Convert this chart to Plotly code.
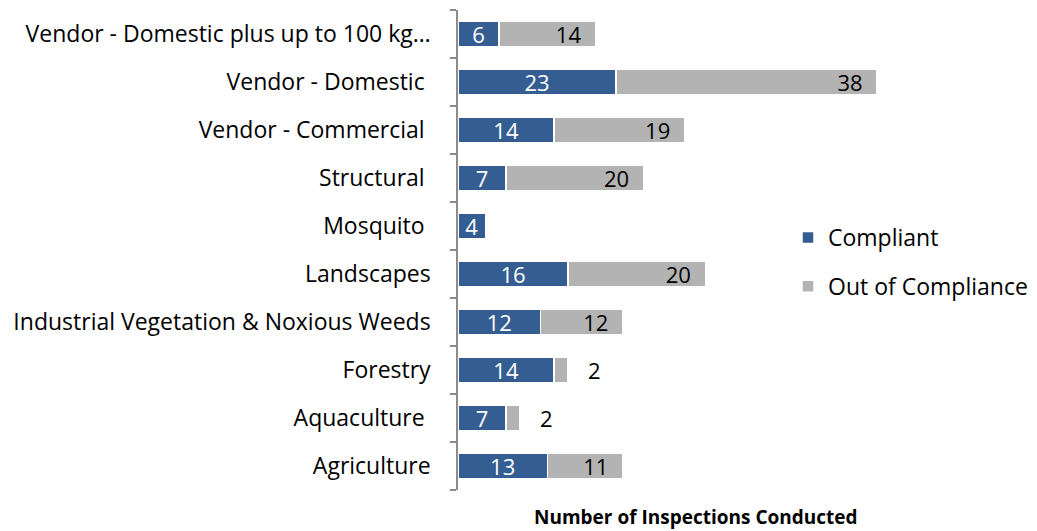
import plotly.graph_objects as go

categories = [
    "Agriculture",
    "Aquaculture\u00a0",
    "Forestry",
    "Industrial Vegetation & Noxious Weeds",
    "Landscapes",
    "Mosquito\u00a0",
    "Structural\u00a0",
    "Vendor - Commercial\u00a0",
    "Vendor - Domestic\u00a0",
    "Vendor - Domestic plus up to 100 kg\u2026",
]
compliant = [13, 7, 14, 12, 16, 4, 7, 14, 23, 6]
out_of_compliance = [11, 2, 2, 12, 20, 0, 20, 19, 38, 14]

BLUE = "#345E91"
GRAY = "#B3B3B3"
FONT = "Open Sans"
FS = 23
FS_BAR = 22

out_text = []
out_pos = []
for v in out_of_compliance:
    if v == 0:
        out_text.append("")
        out_pos.append("none")
    elif v <= 3:
        out_text.append("\u00a0\u00a0\u00a0" + str(v))
        out_pos.append("outside")
    else:
        out_text.append(str(v) + "\u00a0\u00a0")
        out_pos.append("inside")

fig = go.Figure()
fig.add_trace(go.Bar(
    y=categories, x=compliant, orientation="h", name="Compliant",
    marker=dict(color=BLUE, line=dict(color="white", width=1.5)),
    text=[str(v) for v in compliant], textposition="inside",
    insidetextanchor="middle", textangle=0,
    textfont=dict(color="white", size=FS_BAR, family=FONT),
    constraintext="none", legendgroup="a",
))
fig.add_trace(go.Bar(
    y=categories, x=out_of_compliance, orientation="h", name="Out of Compliance",
    marker=dict(color=GRAY, line=dict(color="white", width=1.5)),
    text=out_text, textposition=out_pos, textangle=0,
    insidetextanchor="end",
    textfont=dict(color="black", size=FS_BAR, family=FONT),
    constraintext="none", cliponaxis=False, legendgroup="b",
))

# the page body adds an 8px offset; the figure is sized to fit the window
OFF = 8
W, H = 1037 - OFF, 531 - OFF
ml, mt = 458 - OFF, 10 - OFF
plot_bottom = 490 - OFF
mb = H - plot_bottom
mr = 19
plot_w = W - ml - mr
plot_h = H - mt - mb
px_per_unit = 6.87
fig.update_layout(
    width=W, height=H,
    barmode="stack", bargap=0.45,
    margin=dict(l=ml, r=mr, t=mt, b=mb, autoexpand=False),
    plot_bgcolor="white", paper_bgcolor="white",
    font=dict(family=FONT, size=FS, color="black"),
    showlegend=True,
    legend=dict(
        x=(788 - OFF - ml) / plot_w, y=(plot_bottom - (216 - OFF)) / plot_h,
        xanchor="left", yanchor="top",
        font=dict(size=FS, family=FONT), tracegroupgap=16,
        traceorder="grouped", bgcolor="rgba(0,0,0,0)",
    ),
    xaxis=dict(range=[0, plot_w / px_per_unit], visible=False, fixedrange=True,
               automargin=False),
    yaxis=dict(
        type="category", categoryorder="array", categoryarray=categories,
        showline=True, linecolor="#8C8C8C", linewidth=1.5,
        ticks="outside", tickson="boundaries", ticklen=6, tickcolor="#8C8C8C",
        tickwidth=1.5, ticklabelstandoff=21, automargin=False,
        tickfont=dict(size=FS, family=FONT, color="black"),
        showgrid=False, zeroline=False,
    ),
    annotations=[dict(
        text="<b>Number of Inspections Conducted</b>",
        x=(696 - OFF - ml) / plot_w, xref="paper",
        y=-((517 - OFF) - plot_bottom) / plot_h, yref="paper",
        xanchor="center", yanchor="middle", showarrow=False,
        font=dict(size=19, family=FONT, color="black"),
    )],
)

fig.write_html("out.html")
